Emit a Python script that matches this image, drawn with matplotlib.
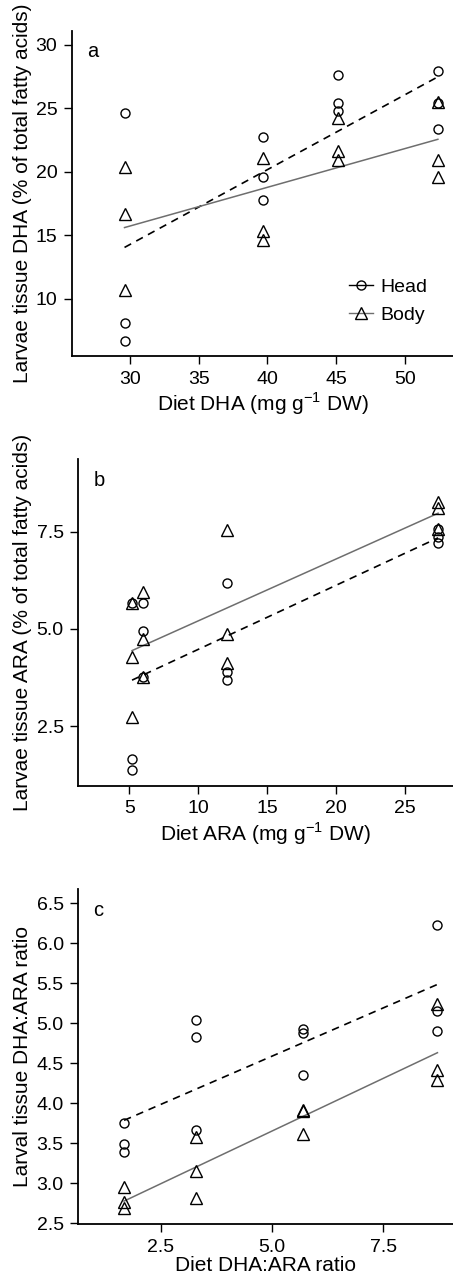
import numpy as np
import matplotlib
matplotlib.use("Agg")
import matplotlib.pyplot as plt
from matplotlib.lines import Line2D

plt.rcParams["font.family"] = ["Liberation Sans", "DejaVu Sans"]
plt.rcParams["mathtext.fontset"] = "custom"
plt.rcParams["mathtext.rm"] = "Liberation Sans"

# Panel a: diet DHA vs larvae tissue DHA (3 replicates per diet)
dha_diet = [29.6, 39.7, 45.1, 52.4]
dha_head = [[24.6, 8.1, 6.7], [22.7, 19.6, 17.8], [27.6, 25.4, 24.8], [27.9, 25.4, 23.4]]
dha_body = [[20.4, 16.7, 10.7], [21.1, 15.3, 14.6], [24.2, 21.6, 20.9], [25.5, 20.9, 19.6]]

# Panel b: diet ARA vs larvae tissue ARA
ara_diet = [5.2, 6.0, 12.1, 27.4]
ara_head = [[5.66, 1.64, 1.37], [5.67, 4.95, 3.77], [6.19, 3.90, 3.68], [7.56, 7.37, 7.20]]
ara_body = [[5.66, 4.27, 2.74], [5.96, 4.73, 3.77], [7.53, 4.87, 4.11], [8.27, 8.10, 7.56]]

# Panel c: diet DHA:ARA ratio vs larval tissue DHA:ARA ratio
ratio_diet = [1.67, 3.29, 5.69, 8.72]
ratio_head = [[3.75, 3.49, 3.39], [5.04, 4.83, 3.67], [4.93, 4.88, 4.35], [6.23, 5.16, 4.90]]
ratio_body = [[2.95, 2.77, 2.69], [3.58, 3.15, 2.81], [3.92, 3.90, 3.62], [5.24, 4.42, 4.29]]

LINE_GREY = "#6e6e6e"
TICK_FS = 14
LABEL_FS = 15


def flatten(diet, values):
    xs = np.repeat(diet, [len(v) for v in values])
    ys = np.concatenate(values)
    return xs, ys


def draw_panel(ax, diet, head, body, letter, xlabel, ylabel, xticks, yticks,
               xlim, ylim, ticklabels=None):
    hx, hy = flatten(diet, head)
    bx, by = flatten(diet, body)

    # regression lines from the data
    xr = np.array([min(diet), max(diet)])
    ch = np.polyfit(hx, hy, 1)
    cb = np.polyfit(bx, by, 1)
    ax.plot(xr, np.polyval(ch, xr), color="black", linestyle=(0, (4.5, 3.5)),
            linewidth=1.2, zorder=2)
    ax.plot(xr, np.polyval(cb, xr), color=LINE_GREY, linewidth=1.1, zorder=2)

    ax.plot(hx, hy, linestyle="none", marker="o", markersize=6.5,
            markerfacecolor="none", markeredgecolor="black", markeredgewidth=1.0, zorder=3)
    ax.plot(bx, by, linestyle="none", marker="^", markersize=8,
            markerfacecolor="none", markeredgecolor="black", markeredgewidth=1.0, zorder=3)

    ax.set_xlim(*xlim)
    ax.set_ylim(*ylim)
    ax.set_xticks(xticks)
    ax.set_yticks(yticks)
    if ticklabels is not None:
        ax.set_yticklabels(ticklabels)
    for side in ["top", "right"]:
        ax.spines[side].set_visible(False)
    for side in ["left", "bottom"]:
        ax.spines[side].set_linewidth(1.3)
    ax.tick_params(direction="out", length=6, width=1.0, labelsize=TICK_FS, pad=4.5)
    ax.set_xlabel(xlabel, fontsize=LABEL_FS, labelpad=2)
    ax.set_ylabel(ylabel, fontsize=LABEL_FS, labelpad=3)
    ax.text(0.04, 0.965, letter, transform=ax.transAxes, fontsize=14.5,
            ha="left", va="top")


fig = plt.figure(figsize=(4.53, 12.82), dpi=100)

ax1 = fig.add_axes([0.159, 0.7223, 0.841, 0.2538])
draw_panel(ax1, dha_diet, dha_head, dha_body, "a",
           "Diet DHA (mg g$^{-1}$ DW)",
           "Larvae tissue DHA (% of total fatty acids)",
           [30, 35, 40, 45, 50], [10, 15, 20, 25, 30],
           (25.78, 53.5), (5.5, 31.1))

handles = [
    Line2D([], [], color="black", linewidth=1.0, marker="o", markersize=6.5,
           markerfacecolor="none", markeredgecolor="black"),
    Line2D([], [], color=LINE_GREY, linewidth=1.0, marker="^", markersize=8,
           markerfacecolor="none", markeredgecolor="black"),
]
ax1.legend(handles, ["Head", "Body"], loc="upper left", bbox_to_anchor=(0.728, 0.238),
           frameon=False, fontsize=14, handlelength=1.2, handletextpad=0.4,
           labelspacing=0.5, borderaxespad=0, borderpad=0)

ax2 = fig.add_axes([0.1728, 0.3871, 0.8272, 0.2546])
draw_panel(ax2, ara_diet, ara_head, ara_body, "b",
           "Diet ARA (mg g$^{-1}$ DW)",
           "Larvae tissue ARA (% of total fatty acids)",
           [5, 10, 15, 20, 25], [2.5, 5.0, 7.5],
           (1.30, 28.48), (0.965, 9.36), ["2.5", "5.0", "7.5"])

ax3 = fig.add_axes([0.1728, 0.04524, 0.8272, 0.261])
draw_panel(ax3, ratio_diet, ratio_head, ratio_body, "c",
           "Diet DHA:ARA ratio",
           "Larval tissue DHA:ARA ratio",
           [2.5, 5.0, 7.5], [2.5, 3.0, 3.5, 4.0, 4.5, 5.0, 5.5, 6.0, 6.5],
           (0.64, 9.07), (2.49, 6.675),
           ["2.5", "3.0", "3.5", "4.0", "4.5", "5.0", "5.5", "6.0", "6.5"])
ax3.set_xticklabels(["2.5", "5.0", "7.5"])
ax3.xaxis.labelpad = 0

fig.savefig("out.png", dpi=100)
